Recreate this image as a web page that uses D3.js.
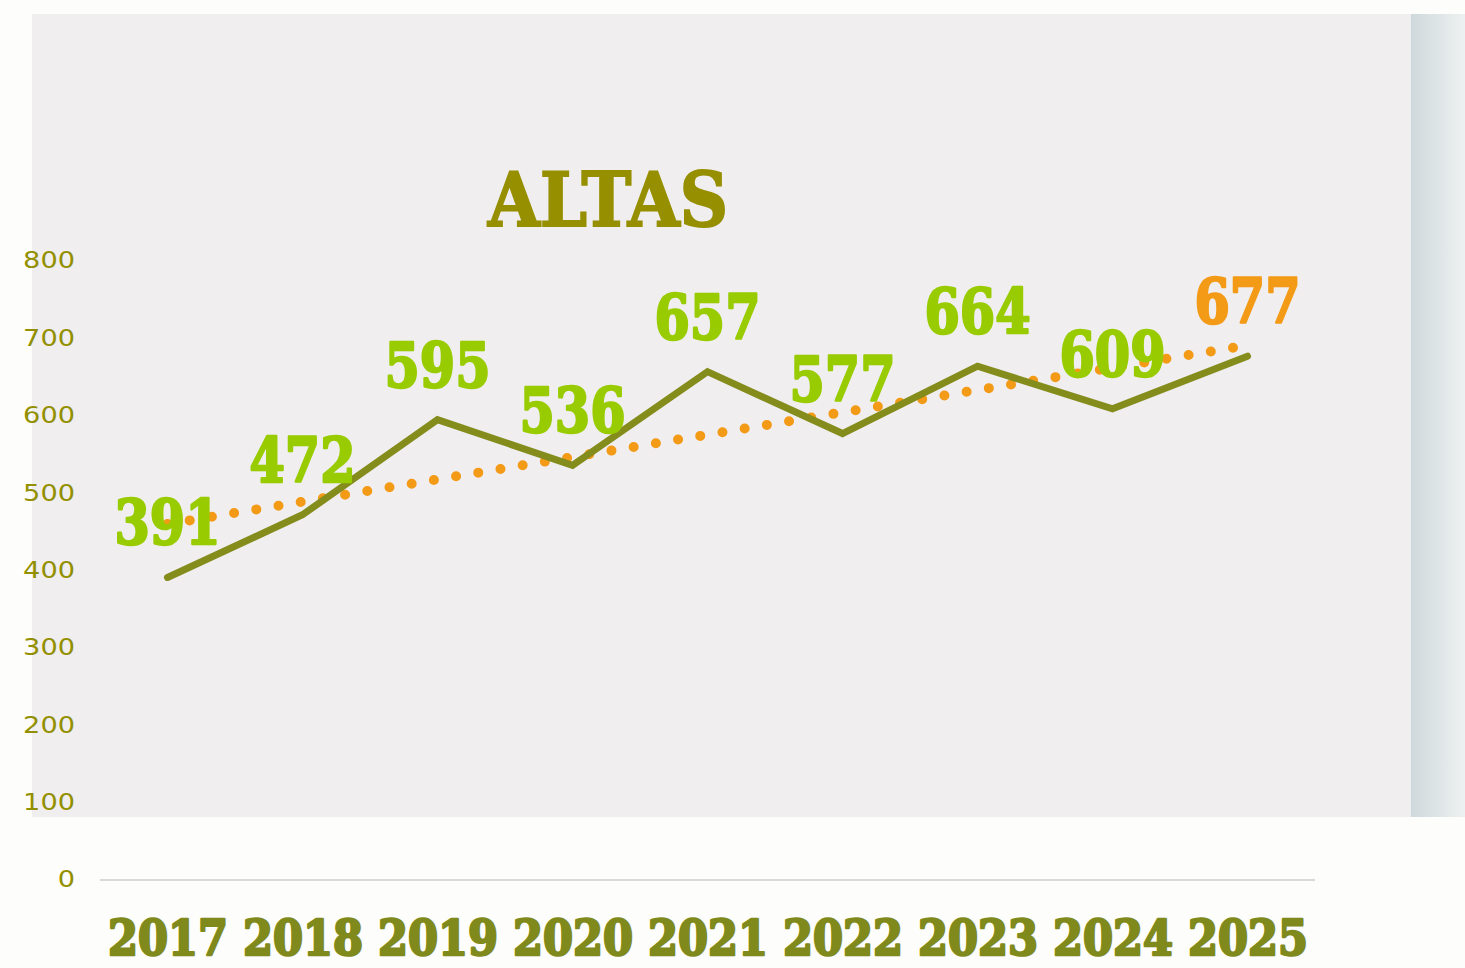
<!DOCTYPE html>
<html><head><meta charset="utf-8">
<script src="https://cdn.jsdelivr.net/npm/d3@7"></script>
<style>html,body{margin:0;padding:0;background:#fdfdfb;}</style>
</head><body>
<svg id="c" width="1465" height="968"></svg>
<script>
const years = ["2017","2018","2019","2020","2021","2022","2023","2024","2025"];
const altas = [391,472,595,536,657,577,664,609,677];
const trendValues = [460,691];
const yTicks = [0,100,200,300,400,500,600,700,800];
const title = "ALTAS";

const svg = d3.select("#c");
const defs = svg.append("defs");
const grad = defs.append("linearGradient").attr("id","side").attr("x1","0").attr("x2","1").attr("y1","0").attr("y2","0");
grad.append("stop").attr("offset","0").attr("stop-color","#cfd9dc");
grad.append("stop").attr("offset","1").attr("stop-color","#eef1f1");

svg.append("rect").attr("x",0).attr("y",0).attr("width",1465).attr("height",968).attr("fill","#fdfdfb");
svg.append("rect").attr("x",32).attr("y",14).attr("width",1379).attr("height",803).attr("fill","#f0eeef");
svg.append("rect").attr("x",1411).attr("y",14).attr("width",54).attr("height",803).attr("fill","url(#side)");

const x = d3.scalePoint().domain(years).range([100,1315]).padding(0.5);
const y = d3.scaleLinear().domain([0,800]).range([880,261]);

// gridline at 0
svg.append("line").attr("x1",100).attr("x2",1315).attr("y1",y(0)).attr("y2",y(0))
  .attr("stroke","#d9d9d9").attr("stroke-width",2);

// y axis labels
const yAxis = d3.axisLeft(y).tickValues(yTicks).tickSize(0).tickPadding(0);
const yg = svg.append("g").attr("transform","translate(75,0)").call(yAxis);
yg.select(".domain").remove();
yg.selectAll("text").attr("font-family","DejaVu Sans").attr("font-size",23)
  .attr("fill","#939000").attr("dy","0.3em")
  .attr("textLength",d=>String(d).length*17.3).attr("lengthAdjust","spacingAndGlyphs");

// x axis labels
const xAxis = d3.axisBottom(x).tickSize(0).tickPadding(0);
const xg = svg.append("g").attr("transform","translate(0,955)").call(xAxis);
xg.select(".domain").remove();
xg.selectAll("text").attr("dy",0).attr("y",0)
  .attr("font-family","DejaVu Serif").attr("font-weight","bold").attr("font-size",48)
  .attr("fill","#808a1c").attr("stroke","#808a1c").attr("stroke-width",2.5)
  .attr("stroke-linejoin","round")
  .attr("text-anchor","middle")
  .attr("textLength",120).attr("lengthAdjust","spacingAndGlyphs");

// title
svg.append("text").attr("x",608).attr("y",226).attr("text-anchor","middle")
  .attr("font-family","DejaVu Serif").attr("font-weight","bold").attr("font-size",74)
  .attr("fill","#968f00").attr("stroke","#968f00").attr("stroke-width",2)
  .attr("textLength",240).attr("lengthAdjust","spacingAndGlyphs").text(title);

// trend line (dotted)
svg.append("line")
  .attr("x1",x(years[0])).attr("y1",y(trendValues[0]))
  .attr("x2",x(years[years.length-1])).attr("y2",y(trendValues[1]))
  .attr("stroke","#f39a17").attr("stroke-width",10).attr("stroke-linecap","round")
  .attr("stroke-dasharray","0 22.5");

// main line
const line = d3.line().x((d,i)=>x(years[i])).y(d=>y(d));
svg.append("path").datum(altas).attr("d",line).attr("fill","none")
  .attr("stroke","#848c1c").attr("stroke-width",7).attr("stroke-linecap","round").attr("stroke-linejoin","miter");

// data labels
svg.append("g").selectAll("text").data(altas).join("text")
  .attr("x",(d,i)=>x(years[i])).attr("y",d=>y(d)-33)
  .attr("text-anchor","middle")
  .attr("font-family","DejaVu Serif").attr("font-weight","bold").attr("font-size",62)
  .attr("fill",(d,i)=>i===altas.length-1?"#f39a17":"#99cc00")
  .attr("stroke",(d,i)=>i===altas.length-1?"#f39a17":"#99cc00").attr("stroke-width",2.5)
  .attr("stroke-linejoin","round")
  .attr("textLength",106).attr("lengthAdjust","spacingAndGlyphs")
  .text(d=>d);
</script>
</body></html>
